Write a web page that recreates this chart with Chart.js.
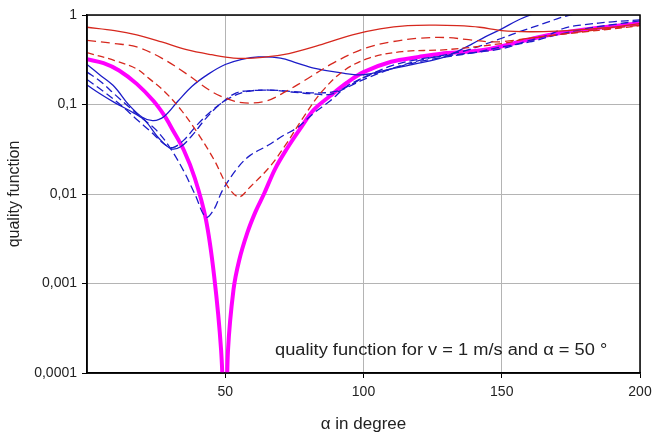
<!DOCTYPE html>
<html>
<head>
<meta charset="utf-8">
<script src="https://cdn.jsdelivr.net/npm/chart.js@4.4.1/dist/chart.umd.min.js"></script>
<style>
  body { margin: 0; background: #fff; }
</style>
</head>
<body>
<canvas id="myChart" width="665" height="439"></canvas>
<script>
// x ticks and y ticks (log scale, comma decimals)
const xTicks = [50, 100, 150, 200];
const yTicks = [0.0001, 0.001, 0.01, 0.1, 1];
const yTickLabels = ['0,0001', '0,001', '0,01', '0,1', '1'];

// [alpha, quality] pairs
const redSolid = [[0,0.73],[10,0.67],[18,0.6],[27,0.5],[36,0.41],[45,0.36],[53,0.33],[60,0.33],[71,0.36],[84,0.46],[96,0.6],[106,0.7],[116,0.76],[126,0.77],[134,0.76],[142,0.73],[150,0.67],[160,0.65],[170,0.66],[180,0.69],[190,0.73],[200,0.8]];
const redDash1 = [[0,0.52],[10,0.48],[18,0.44],[27,0.33],[36,0.22],[45,0.14],[51,0.115],[57,0.104],[65,0.11],[72,0.14],[78,0.18],[89,0.29],[100,0.42],[110,0.5],[120,0.55],[130,0.56],[138,0.53],[148,0.5],[160,0.55],[170,0.6],[180,0.66],[190,0.71],[200,0.77]];
const redDash2 = [[0,0.38],[10,0.31],[18,0.25],[22,0.2],[28,0.14],[34,0.087],[40,0.048],[46,0.024],[51,0.012],[55,0.0093],[59,0.012],[66,0.02],[72,0.036],[78,0.07],[85,0.14],[93,0.24],[102,0.33],[114,0.39],[130,0.41],[150,0.48],[160,0.55],[170,0.6],[180,0.65],[190,0.7],[200,0.76]];
const blueSolid = [[0,0.28],[5,0.21],[10,0.157],[15,0.1],[20,0.072],[24,0.066],[28,0.074],[33,0.11],[38,0.16],[44,0.22],[50,0.28],[56,0.32],[62,0.34],[70,0.33],[76,0.29],[82,0.255],[92,0.225],[100,0.215],[110,0.25],[120,0.29],[128,0.33],[133,0.38],[139,0.47],[144,0.57],[150,0.7],[156,0.88],[162,1.05]];
const blueMixed = [[0,0.165],[5,0.13],[10,0.105],[17,0.08],[21,0.066],[26,0.042],[30.5,0.032],[34,0.034],[38,0.045],[43,0.07],[48,0.1],[54,0.135],[60,0.143],[66,0.145],[74,0.138],[81,0.132],[88,0.13],[95,0.16],[100,0.19],[110,0.25],[120,0.31],[130,0.36],[137,0.4],[143,0.46],[150,0.55],[157,0.66],[165,0.8],[172,0.95],[176,1.02]];
const blueDash1 = [[0,0.23],[5,0.18],[10,0.13],[15,0.095],[20,0.07],[25,0.052],[30,0.033],[35,0.018],[39,0.01],[43,0.0055],[46,0.0068],[49,0.011],[54.7,0.02],[59,0.027],[65.5,0.035],[71,0.045],[76,0.055],[82,0.08],[88,0.11],[94,0.16],[100,0.2],[110,0.27],[120,0.32],[130,0.35],[140,0.38],[150,0.42],[160,0.52],[167,0.6],[173,0.72],[180,0.78],[190,0.84],[200,0.88]];
const blueDash2 = [[0,0.19],[6,0.14],[12,0.1],[18,0.068],[23,0.05],[28,0.036],[31,0.033],[35,0.04],[40,0.06],[46,0.09],[52,0.12],[58,0.14],[66,0.145],[74,0.14],[82,0.135],[90,0.14],[96,0.17],[100,0.2],[110,0.25],[120,0.3],[130,0.34],[140,0.38],[150,0.44],[160,0.5],[170,0.6],[180,0.7],[190,0.78],[200,0.86]];
const magenta = [[0,0.32],[6,0.29],[11.6,0.24],[18,0.17],[24,0.11],[28,0.075],[31,0.052],[35,0.031],[39,0.015],[43,0.0052],[46,0.0012],[48.5,0.00018],[49.5,0.00003],[50,0.00001],[50.5,0.00003],[51,0.00018],[53,0.00086],[55,0.0018],[58,0.0037],[61,0.0064],[64,0.01],[68,0.019],[72,0.031],[77,0.053],[82,0.087],[88,0.125],[94,0.175],[100,0.23],[110,0.3],[120,0.34],[128,0.37],[138,0.39],[146,0.42],[155,0.49],[165,0.58],[173,0.64],[185,0.72],[200,0.81]];

const RED = 'rgb(214,40,30)';
const BLUE = 'rgb(28,28,200)';
const FONT = 'Liberation Sans, Arial, sans-serif';

function pts(arr) {
    return arr.map(p => ({x: p[0], y: p[1]}));
}

function line(arr, color, width, dash) {
    return {
        data: pts(arr),
        borderColor: color,
        borderWidth: width,
        borderDash: dash || [],
        pointRadius: 0,
        tension: 0.35,
        fill: false
    };
}

const mixed = line(blueMixed, BLUE, 1.3);
mixed.segment = { borderDash: c => c.p0.parsed.x >= 34 ? [8, 4] : [] };

// frame + note text
const extras = {
    id: 'extras',
    afterDraw(chart) {
        const ctx = chart.ctx;
        const a = chart.chartArea;
        ctx.save();
        ctx.strokeStyle = '#000';
        ctx.lineWidth = 1.5;
        ctx.strokeRect(a.left, a.top, a.right - a.left, a.bottom - a.top);
        ctx.fillStyle = '#222';
        ctx.font = '16px ' + FONT;
        ctx.textBaseline = 'middle';
        const x = chart.scales.x.getPixelForValue(68);
        const y = chart.scales.y.getPixelForValue(0.00018);
        ctx.translate(x, y);
        ctx.scale(1.14, 1);
        ctx.fillText('quality function for v = 1 m/s and \u03b1 = 50 \u00b0', 0, 0);
        ctx.restore();
    }
};

new Chart(document.getElementById('myChart'), {
    type: 'line',
    data: {
        datasets: [
            line(redSolid, RED, 1.3),
            line(redDash1, RED, 1.3, [9, 5]),
            line(redDash2, RED, 1.3, [7, 4]),
            line(blueSolid, BLUE, 1.3),
            mixed,
            line(blueDash1, BLUE, 1.3, [8, 4]),
            line(blueDash2, BLUE, 1.3, [8, 4]),
            line(magenta, 'rgb(255,0,255)', 4)
        ]
    },
    options: {
        responsive: false,
        animation: false,
        layout: { padding: { left: 0, right: 25, top: 15, bottom: 0 } },
        plugins: { legend: { display: false }, tooltip: { enabled: false } },
        scales: {
            x: {
                type: 'linear',
                min: 0,
                max: 200,
                afterFit: s => { s.height = 66; },
                afterBuildTicks: s => { s.ticks = xTicks.map(v => ({value: v})); },
                ticks: { color: '#222', font: { family: FONT, size: 14 }, padding: 6, maxRotation: 0 },
                grid: { color: '#b4b4b4', lineWidth: 1, tickLength: 5, tickColor: '#000' },
                border: { color: '#000', width: 1.5 },
                title: { display: true, text: '\u03b1 in degree', color: '#222', font: { family: FONT, size: 17 }, padding: { top: 0, bottom: 4 } }
            },
            y: {
                type: 'logarithmic',
                min: 0.0001,
                max: 1,
                afterFit: s => { s.width = 87; },
                afterBuildTicks: s => { s.ticks = yTicks.map(v => ({value: v})); },
                ticks: { color: '#222', font: { family: FONT, size: 14 }, padding: 5, callback: (v, i) => yTickLabels[i] },
                grid: { color: '#b4b4b4', lineWidth: 1, tickLength: 5, tickColor: '#000' },
                border: { color: '#000', width: 1.5 },
                title: { display: true, text: 'quality function', color: '#222', font: { family: FONT, size: 16 }, padding: { top: 5, bottom: 0 } }
            }
        }
    },
    plugins: [extras]
});
</script>
</body>
</html>
